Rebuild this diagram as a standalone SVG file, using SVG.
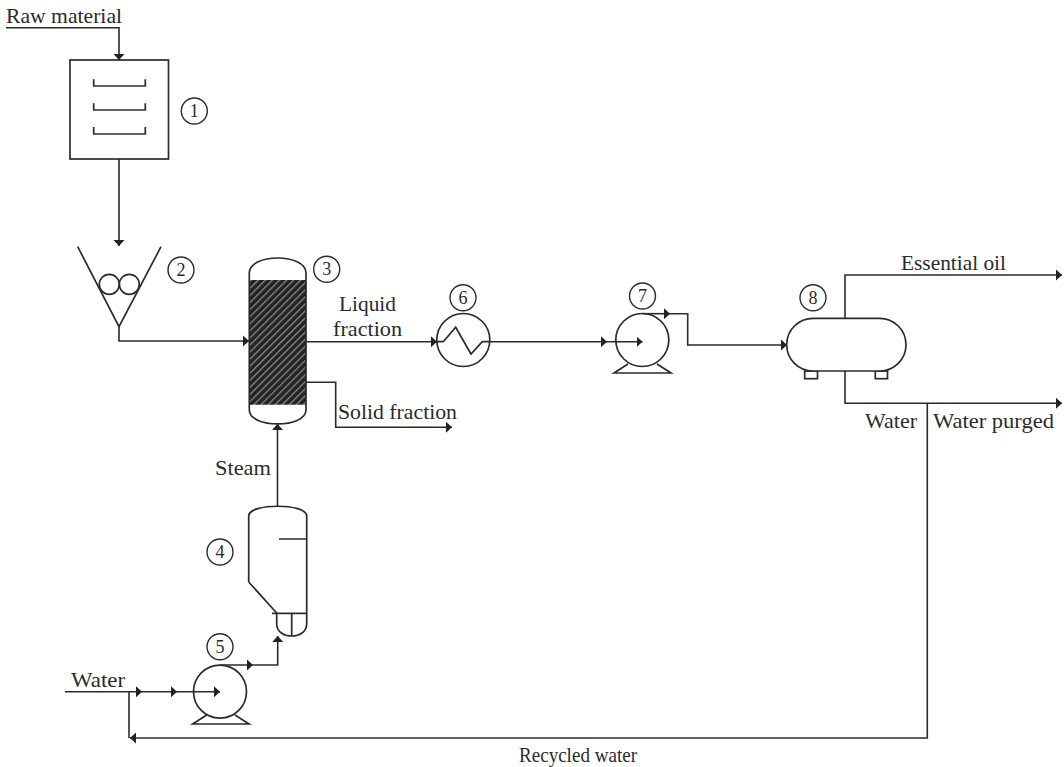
<svg xmlns="http://www.w3.org/2000/svg" width="1064" height="767" viewBox="0 0 1064 767">
<style>
.s{fill:none;stroke:#2b2b2b;stroke-width:1.7}
.f{fill:#fff;stroke:#2b2b2b;stroke-width:1.7}
.a{fill:none;stroke:#2b2b2b;stroke-width:1.6;marker-end:url(#ah)}
.l{fill:none;stroke:#2b2b2b;stroke-width:1.6}
.c{fill:#fff;stroke:#2b2b2b;stroke-width:1.4}
text{font-family:"Liberation Serif","Times New Roman",serif;font-size:21.5px;fill:#2b2b2b}
.n{font-size:18px;text-anchor:middle}
</style>
<defs>
<marker id="ah" markerUnits="userSpaceOnUse" markerWidth="7" markerHeight="12" refX="6" refY="6" orient="auto">
<path d="M0 0.5L6 6L0 11.5Z" fill="#222"/>
</marker>
<pattern id="hatch" patternUnits="userSpaceOnUse" width="5" height="5" patternTransform="rotate(45)">
<rect width="5" height="5" fill="#222"/>
<rect x="0" y="0" width="1.3" height="5" fill="#8c8c8c"/>
</pattern>
</defs>
<g id="connectors">
<path class="a" d="M6 27.7H119V60"/>
<path class="a" d="M119 159V246"/>
<path class="a" d="M119 327V341H249"/>
<path class="a" d="M306 341.7H437"/>
<path class="a" d="M306 382.3H335.7V427.3H452"/>
<path class="a" d="M277.5 507V424"/>
<path class="a" d="M65 691.7H142"/>
<path class="a" d="M142 691.7H177"/>
<path class="a" d="M177 691.7H220"/>
<path class="a" d="M220 665H253"/>
<path class="a" d="M253 665H277.7V636"/>
<path class="a" d="M490 341.7H607"/>
<path class="a" d="M607 341.7H642.5"/>
<path class="a" d="M642.5 313.7H670"/>
<path class="a" d="M670 313.7H687.7V345H787"/>
<path class="a" d="M845 318V275H1062"/>
<path class="a" d="M845 371V403.3H1062"/>
<path class="a" d="M927.3 403.3V738H130"/>
<path class="l" d="M129 691.7V738"/>
</g>
<g id="node1">
<rect class="s" x="70" y="60" width="98.5" height="99"/>
<path class="s" d="M93.7 79.3V86H145.3V79.3M93.7 103.3V110H145.3V103.3M93.7 127V134H145.3V127"/>
<circle class="c" cx="194.3" cy="111" r="13"/><text class="n" x="194.3" y="117">1</text>
</g>
<g id="node2">
<path class="s" d="M77.7 246.7L119 326.7L161 246.7"/>
<circle class="s" cx="109.3" cy="284.3" r="10"/>
<circle class="s" cx="129.3" cy="284.3" r="10"/>
<circle class="c" cx="181" cy="270" r="13"/><text class="n" x="181" y="276">2</text>
</g>
<g id="node3">
<rect x="249.3" y="280" width="56.7" height="124.7" fill="url(#hatch)"/>
<path class="s" d="M249.3 280V273C249.3 253 306 253 306 273V410C306 428.5 249.3 428.5 249.3 410Z"/>
<circle class="c" cx="326.7" cy="269.3" r="13"/><text class="n" x="326.7" y="275.3">3</text>
</g>
<g id="node4">
<path class="s" d="M248.7 582V516C248.7 503 306.7 503 306.7 516V624C306.7 640 276.7 640 276.7 624V613L248.7 582"/>
<path class="s" d="M279 539H306.7M272 613.3H306.7M291.7 613.3V636"/>
<circle class="c" cx="220" cy="552" r="13"/><text class="n" x="220" y="558">4</text>
</g>
<g id="node5">
<path class="s" d="M206.7 715L192.7 724H249L235 715"/>
<circle class="s" cx="220" cy="691.7" r="26.5"/>
<circle class="c" cx="220" cy="646.7" r="13"/><text class="n" x="220" y="652.7">5</text>
</g>
<g id="node6">
<circle class="s" cx="463.3" cy="340" r="26.5"/>
<path class="s" d="M436.7 341.7H443.3L455.7 327.3L471 354L482.3 341.7H490"/>
<circle class="c" cx="463" cy="297.7" r="13"/><text class="n" x="463" y="303.7">6</text>
</g>
<g id="node7">
<path class="s" d="M628 364L614 373H671L657 364"/>
<circle class="s" cx="642.3" cy="340" r="26.5"/>
<circle class="c" cx="642.5" cy="296" r="13"/><text class="n" x="642.5" y="302">7</text>
</g>
<g id="node8">
<rect class="s" x="804.7" y="371" width="12.8" height="7.7"/>
<rect class="s" x="875.3" y="371" width="12.2" height="7.7"/>
<rect class="f" x="786.7" y="318.3" width="119.3" height="52.7" rx="26.4" ry="26.4"/>
<circle class="c" cx="813" cy="297.7" r="13"/><text class="n" x="813" y="303.7">8</text>
</g>
<g id="labels">
<text x="6" y="23" textLength="116" lengthAdjust="spacingAndGlyphs">Raw material</text>
<text x="339" y="311" textLength="57" lengthAdjust="spacingAndGlyphs">Liquid</text>
<text x="333" y="336" textLength="69" lengthAdjust="spacingAndGlyphs">fraction</text>
<text x="338" y="419" textLength="119" lengthAdjust="spacingAndGlyphs">Solid fraction</text>
<text x="215" y="475" textLength="56" lengthAdjust="spacingAndGlyphs">Steam</text>
<text x="71" y="687" textLength="54" lengthAdjust="spacingAndGlyphs">Water</text>
<text x="901" y="270" textLength="105" lengthAdjust="spacingAndGlyphs">Essential oil</text>
<text x="865" y="428" textLength="52" lengthAdjust="spacingAndGlyphs">Water</text>
<text x="933" y="428" textLength="121" lengthAdjust="spacingAndGlyphs">Water purged</text>
<text x="519" y="762" textLength="118" lengthAdjust="spacingAndGlyphs">Recycled water</text>
</g>
</svg>
